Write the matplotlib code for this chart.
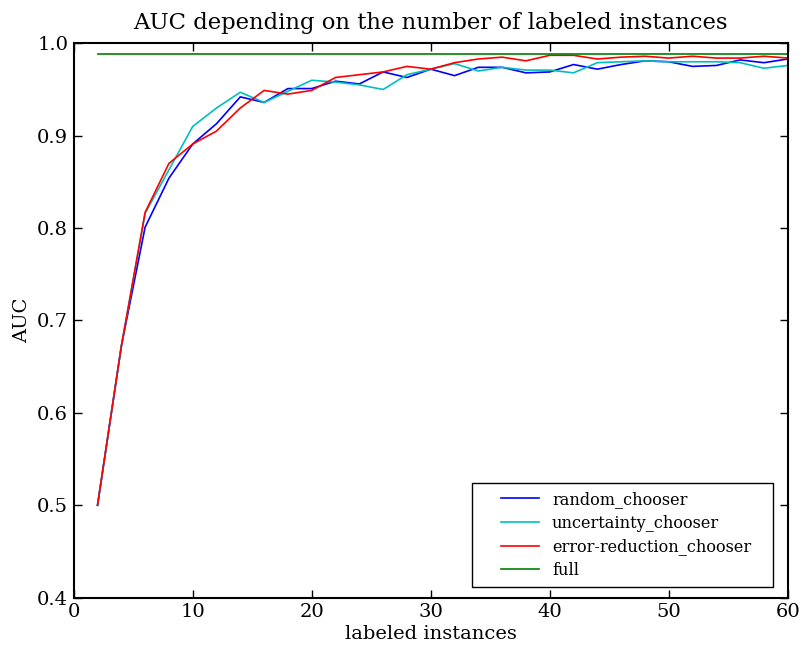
import matplotlib
matplotlib.use('Agg')
import matplotlib.pyplot as plt
from matplotlib.lines import Line2D
from matplotlib.legend_handler import HandlerLine2D

plt.rcParams['font.family'] = 'DejaVu Serif'

n_labeled = list(range(2, 61, 2))

random_auc = [0.500, 0.672, 0.801, 0.854, 0.891, 0.913, 0.942, 0.936, 0.951, 0.951,
              0.959, 0.956, 0.969, 0.963, 0.972, 0.965, 0.974, 0.974, 0.968, 0.969,
              0.977, 0.972, 0.977, 0.981, 0.980, 0.975, 0.976, 0.982, 0.979, 0.983]
uncertainty_auc = [0.500, 0.672, 0.816, 0.863, 0.910, 0.930, 0.947, 0.936, 0.948, 0.960,
                   0.958, 0.955, 0.950, 0.966, 0.972, 0.978, 0.970, 0.974, 0.971, 0.971,
                   0.968, 0.979, 0.980, 0.981, 0.980, 0.980, 0.980, 0.979, 0.973, 0.976]
error_red_auc = [0.500, 0.672, 0.817, 0.870, 0.891, 0.905, 0.930, 0.949, 0.945, 0.949,
                 0.963, 0.966, 0.969, 0.975, 0.972, 0.979, 0.983, 0.985, 0.981, 0.987,
                 0.987, 0.983, 0.985, 0.986, 0.984, 0.986, 0.984, 0.984, 0.986, 0.984]
full_auc = 0.988

fig = plt.figure(figsize=(8.03, 6.51), dpi=100)
ax = fig.add_axes([0.0918, 0.0819, 0.8892, 0.8516])

ax.plot(n_labeled, random_auc, color='b', lw=1.2, label='random_chooser')
ax.plot(n_labeled, uncertainty_auc, color=(0, 0.75, 0.75), lw=1.2, label='uncertainty_chooser')
ax.plot(n_labeled, error_red_auc, color='r', lw=1.2, label='error-reduction_chooser')
ax.plot([n_labeled[0], n_labeled[-1]], [full_auc, full_auc], color=(0, 0.5, 0), lw=1.2, label='full')

ax.set_xlim(0, 60)
ax.set_ylim(0.4, 1.0)
ax.set_xticks(range(0, 61, 10))
ax.set_yticks([0.4, 0.5, 0.6, 0.7, 0.8, 0.9, 1.0])
ax.set_yticklabels(['0.4', '0.5', '0.6', '0.7', '0.8', '0.9', '1.0'])
ax.tick_params(direction='in', top=True, right=True, length=6, width=1, labelsize=14, pad=4)
for s in ax.spines.values():
    s.set_linewidth(1.5)

ax.set_title('AUC depending on the number of labeled instances', fontsize=16.4, pad=10)
ax.set_xlabel('labeled instances', fontsize=14, labelpad=3)
ax.set_ylabel('AUC', fontsize=14, labelpad=4)

# old-style legend: wide box, handle set in from the left edge
leg = ax.legend(loc='lower left', bbox_to_anchor=(0.558, 0.019, 0.422, 0.1), mode='expand',
                fontsize=11.6, fancybox=False, framealpha=1, edgecolor='black',
                handlelength=3.66, borderpad=0.5, labelspacing=0.42, borderaxespad=0,
                handletextpad=0.8, handler_map={Line2D: HandlerLine2D(xpad=1.3)})
leg.get_frame().set_linewidth(1.0)

fig.savefig('out.png', dpi=100)
